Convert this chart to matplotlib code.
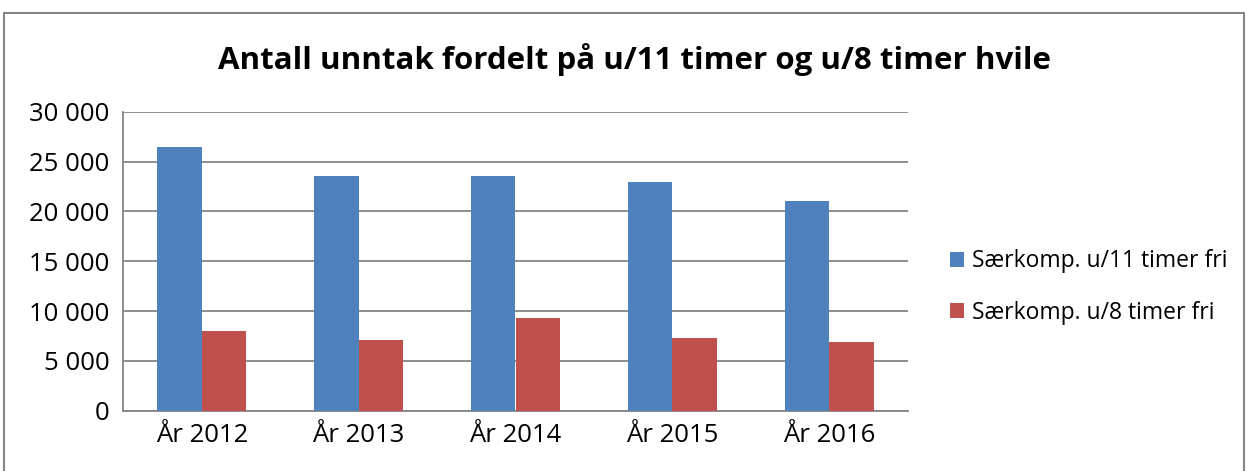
import matplotlib
matplotlib.use('Agg')
import matplotlib.pyplot as plt
import numpy as np
from matplotlib.patches import Rectangle
from matplotlib.ticker import FuncFormatter

years = ['År 2012', 'År 2013', 'År 2014', 'År 2015', 'År 2016']
u11 = [26500, 23500, 23550, 22900, 21050]
u8 = [7950, 7100, 9270, 7300, 6900]
series_names = ['Særkomp. u/11 timer fri', 'Særkomp. u/8 timer fri']
colors = ['#4F81BD', '#C0504D']

plt.rcParams['font.family'] = ['Open Sans', 'DejaVu Sans']

fig = plt.figure(figsize=(12.5, 4.71), dpi=100)
fig.patch.set_facecolor('white')

# outer chart border
fig.patches.append(Rectangle((3.5 / 1250, -0.05), (1244 - 3.5) / 1250, 1.05 - 12.5 / 471,
                             transform=fig.transFigure, fill=False,
                             edgecolor='#868686', linewidth=1.5))

ax = fig.add_axes([123.3 / 1250, 60.3 / 471, 784.4 / 1250, 299 / 471])

x = np.arange(len(years))
w = 0.285
b1 = ax.bar(x - w / 2, u11, w, color=colors[0], label=series_names[0], zorder=3)
b2 = ax.bar(x + w / 2, u8, w, color=colors[1], label=series_names[1], zorder=3)

ax.set_xlim(-0.5, len(years) - 0.5)
ax.set_ylim(0, 30000)
ax.set_yticks(range(0, 30001, 5000))
ax.yaxis.set_major_formatter(FuncFormatter(lambda v, p: f'{int(v):,}'.replace(',', ' ')))
ax.set_xticks(x)
ax.set_xticklabels(years)
ax.tick_params(axis='both', length=0, labelsize=18.5, colors='black')
ax.tick_params(axis='y', pad=10)
ax.tick_params(axis='x', pad=9)

ax.grid(axis='y', color='#868686', linewidth=1.3, zorder=0)
for s in ['top', 'right']:
    ax.spines[s].set_visible(False)
for s in ['left', 'bottom']:
    ax.spines[s].set_color('#868686')
    ax.spines[s].set_linewidth(1.3)

fig.text(634 / 1250, 1 - 60 / 471, 'Antall unntak fordelt på u/11 timer og u/8 timer hvile',
         ha='center', va='center', fontsize=22.5, fontweight='bold')

leg = fig.legend(handles=[b1, b2], loc='center left',
                 bbox_to_anchor=(950 / 1250, 1 - 287 / 471),
                 frameon=False, fontsize=16.5, handlelength=0.62, handleheight=0.62,
                 handletextpad=0.35, labelspacing=1.2, borderpad=0, borderaxespad=0)

fig.savefig('out.png', dpi=100, facecolor='white')
